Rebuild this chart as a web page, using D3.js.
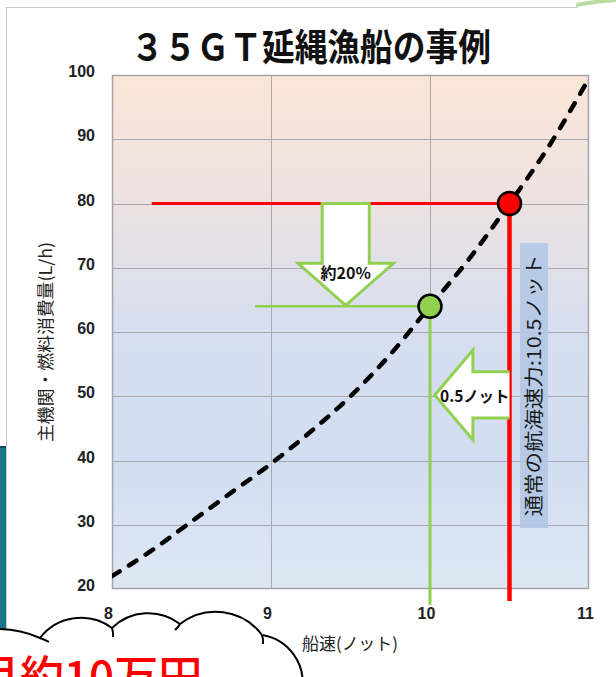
<!DOCTYPE html>
<html>
<head>
<meta charset="utf-8">
<script src="https://cdn.jsdelivr.net/npm/d3@7/dist/d3.min.js"></script>
<style>
  html, body { margin: 0; padding: 0; background: #fff; }
  svg { display: block; }
</style>
</head>
<body>
<script>
// Fuel consumption vs. ship speed, 35GT longline fishing vessel
const speeds = [8, 8.25, 8.5, 8.75, 9, 9.25, 9.5, 9.75, 10, 10.25, 10.5, 10.75, 11];
const fuel   = [22, 26, 30.5, 35, 39.5, 44.5, 50, 56.5, 64, 71.5, 80, 89, 99.5];
const xTicks = [8, 9, 10, 11];
const yTicks = [20, 30, 40, 50, 60, 70, 80, 90, 100];

// operating points
const normalSpeed = 10.5, normalFuel = 80;
const slowSpeed = 10, slowFuel = 64;
const redLineFrom = 8.25, greenLineFrom = 8.9;

const titleText = "３５ＧＴ延縄漁船の事例";
const yTitle = "主機関・燃料消費量(L/h)";
const xTitle = "船速(ノット)";
const cutLabel = "約20%";
const speedLabel = "0.5ノット";
const normalLabel = "通常の航海速力:10.5ノット";
const savingText = "月約10万円";

const W = 616, H = 677;
const JP = "'Noto Sans CJK JP', 'Noto Sans', sans-serif";
const NUM = "'Liberation Sans', Arial, sans-serif";

const svg = d3.select("body").append("svg").attr("width", W).attr("height", H);
const defs = svg.append("defs");

const x = d3.scaleLinear().domain([8, 11]).range([112, 589]);
const y = d3.scaleLinear().domain([20, 100]).range([589, 75]);

// slide frame pieces around the chart
svg.append("rect").attr("x", 0).attr("y", 447).attr("width", 6).attr("height", H - 447).attr("fill", "#17768c");
svg.append("line").attr("x1", 0).attr("x2", 6).attr("y1", 447).attr("y2", 447).attr("stroke", "#0d4d5c").attr("stroke-width", 2);
svg.append("line").attr("x1", 6.5).attr("x2", 6.5).attr("y1", 7).attr("y2", H).attr("stroke", "#c8c8c8").attr("stroke-width", 1);
svg.append("line").attr("x1", 6).attr("x2", 578).attr("y1", 7.5).attr("y2", 7.5).attr("stroke", "#c8c8c8").attr("stroke-width", 1);
svg.append("path").attr("d", "M576,5 Q598,1 616,0").attr("fill", "none").attr("stroke", "#b9dca0").attr("stroke-width", 4);

// title
svg.append("text").attr("x", 311).attr("y", 61).attr("text-anchor", "middle")
  .attr("font-family", JP).attr("font-weight", 700).attr("font-size", 37)
  .attr("textLength", 360).attr("lengthAdjust", "spacingAndGlyphs")
  .attr("fill", "#111").text(titleText);

// plot background gradient
const grad = defs.append("linearGradient").attr("id", "bg").attr("x1", 0).attr("x2", 0).attr("y1", 0).attr("y2", 1);
[["0%", "#fbe6d7"], ["22%", "#efe2e0"], ["48%", "#d7dff0"], ["75%", "#d1ddf1"], ["100%", "#dee7f4"]]
  .forEach(([o, c]) => grad.append("stop").attr("offset", o).attr("stop-color", c));
svg.append("rect").attr("x", x(8)).attr("y", y(100)).attr("width", x(11) - x(8)).attr("height", y(20) - y(100))
  .attr("fill", "url(#bg)");

// gridlines
const grid = svg.append("g").attr("stroke", "#a9a9ae").attr("stroke-width", 1);
grid.selectAll("line.h").data(yTicks.slice(1, -1)).join("line")
  .attr("x1", x(8)).attr("x2", x(11)).attr("y1", d => Math.round(y(d)) + 0.5).attr("y2", d => Math.round(y(d)) + 0.5);
grid.selectAll("line.v").data(xTicks.slice(1, -1)).join("line")
  .attr("y1", y(100)).attr("y2", y(20)).attr("x1", d => Math.round(x(d)) + 0.5).attr("x2", d => Math.round(x(d)) + 0.5);
svg.append("rect").attr("x", x(8) + 0.5).attr("y", y(100) + 0.5).attr("width", x(11) - x(8) - 1).attr("height", y(20) - y(100) - 1)
  .attr("fill", "none").attr("stroke", "#a3a3a8").attr("stroke-width", 1.5);

// axes
const yAxis = svg.append("g").attr("transform", `translate(${x(8)},0)`)
  .call(d3.axisLeft(y).tickValues(yTicks).tickSize(0).tickPadding(17).tickFormat(d3.format("d")));
yAxis.select(".domain").remove();
yAxis.selectAll("text").attr("font-family", NUM).attr("font-weight", 700).attr("font-size", 16)
  .attr("fill", "#222").attr("dy", "0.1em");

const xAxis = svg.append("g").attr("transform", `translate(0,${y(20)})`)
  .call(d3.axisBottom(x).tickValues(xTicks).tickSize(0).tickPadding(19).tickFormat(d3.format("d")));
xAxis.select(".domain").remove();
xAxis.selectAll("text").attr("font-family", NUM).attr("font-weight", 700).attr("font-size", 16)
  .attr("fill", "#222").attr("dx", -4);

// axis titles
svg.append("text").attr("transform", "translate(52,342) rotate(-90)").attr("text-anchor", "middle")
  .attr("font-family", JP).attr("font-size", 17).attr("fill", "#222")
  .attr("textLength", 200).attr("lengthAdjust", "spacingAndGlyphs").text(yTitle);
svg.append("text").attr("x", 350).attr("y", 650).attr("text-anchor", "middle")
  .attr("font-family", JP).attr("font-size", 17).attr("fill", "#222")
  .attr("textLength", 96).attr("lengthAdjust", "spacingAndGlyphs").text(xTitle);

// label box for normal cruising speed
const boxX0 = 520, boxX1 = 548;
svg.append("rect").attr("x", boxX0).attr("y", 243).attr("width", boxX1 - boxX0).attr("height", 285)
  .attr("fill", "#b3c8e6").attr("opacity", 0.9);
svg.append("text").attr("transform", `translate(${(boxX0 + boxX1) / 2 + 7},${(243 + 528) / 2}) rotate(-90)`)
  .attr("text-anchor", "middle").attr("font-family", JP).attr("font-size", 19).attr("fill", "#1a1a1a")
  .attr("textLength", 262).attr("lengthAdjust", "spacingAndGlyphs").text(normalLabel);

// reference lines
svg.append("line").attr("x1", x(redLineFrom)).attr("x2", x(normalSpeed)).attr("y1", y(normalFuel)).attr("y2", y(normalFuel))
  .attr("stroke", "#ff0000").attr("stroke-width", 3);
svg.append("line").attr("x1", x(normalSpeed)).attr("x2", x(normalSpeed)).attr("y1", y(normalFuel)).attr("y2", y(20) + 12)
  .attr("stroke", "#ff0000").attr("stroke-width", 4.5);
svg.append("line").attr("x1", x(greenLineFrom)).attr("x2", x(slowSpeed)).attr("y1", y(slowFuel)).attr("y2", y(slowFuel))
  .attr("stroke", "#92d050").attr("stroke-width", 2.5);
svg.append("line").attr("x1", x(slowSpeed)).attr("x2", x(slowSpeed)).attr("y1", y(slowFuel)).attr("y2", y(20) + 16)
  .attr("stroke", "#92d050").attr("stroke-width", 3);

// down arrow: about 20% less fuel
{
  const cx = 9.47, shaftHalf = 0.148, headHalf = 0.3, headY = 70.7;
  const p = [
    [x(cx - shaftHalf), y(normalFuel)], [x(cx + shaftHalf), y(normalFuel)],
    [x(cx + shaftHalf), y(headY)], [x(cx + headHalf), y(headY)],
    [x(cx), y(slowFuel) - 1], [x(cx - headHalf), y(headY)],
    [x(cx - shaftHalf), y(headY)]
  ];
  svg.append("path").attr("d", d3.line()(p) + "Z").attr("fill", "#fff")
    .attr("stroke", "#92d050").attr("stroke-width", 3).attr("stroke-linejoin", "miter");
  svg.append("text").attr("x", x(cx)).attr("y", y(headY) + 16).attr("text-anchor", "middle")
    .attr("font-family", JP).attr("font-weight", 700).attr("font-size", 16).attr("fill", "#111").text(cutLabel);
}

// left arrow: 0.5 knot slower
{
  const cy = 50.2, shaftHalf = 3.6, headHalf = 7.0, headX = 10.27, tipX = 10.03;
  const p = [
    [x(normalSpeed), y(cy + shaftHalf)], [x(headX), y(cy + shaftHalf)],
    [x(headX), y(cy + headHalf)], [x(tipX), y(cy)],
    [x(headX), y(cy - headHalf)], [x(headX), y(cy - shaftHalf)],
    [x(normalSpeed), y(cy - shaftHalf)]
  ];
  svg.append("path").attr("d", d3.line()(p)).attr("fill", "#fff")
    .attr("stroke", "#92d050").attr("stroke-width", 3).attr("stroke-linejoin", "miter");
  svg.append("text").attr("x", x(tipX) + 40).attr("y", y(cy) + 7).attr("text-anchor", "middle")
    .attr("font-family", JP).attr("font-weight", 700).attr("font-size", 15.5).attr("fill", "#111").text(speedLabel);
}

// fuel curve
defs.append("clipPath").attr("id", "plotClip").append("rect")
  .attr("x", x(8)).attr("y", y(100)).attr("width", x(11) - x(8)).attr("height", y(20) - y(100));
const line = d3.line().x((d, i) => x(speeds[i])).y(d => y(d)).curve(d3.curveMonotoneX);
svg.append("path").attr("clip-path", "url(#plotClip)").attr("d", line(fuel))
  .attr("fill", "none").attr("stroke", "#000").attr("stroke-width", 4.5)
  .attr("stroke-dasharray", "9 11").attr("stroke-linecap", "round");

// operating point markers
svg.append("circle").attr("cx", x(normalSpeed)).attr("cy", y(normalFuel)).attr("r", 11.5)
  .attr("fill", "#ff0000").attr("stroke", "#000").attr("stroke-width", 2.5);
svg.append("circle").attr("cx", x(slowSpeed)).attr("cy", y(slowFuel)).attr("r", 11.5)
  .attr("fill", "#92d050").attr("stroke", "#000").attr("stroke-width", 2.5);

// cloud callout at the bottom
const cloud = svg.append("g");
cloud.append("path")
  .attr("d", "M-5,629 A100,100 0 0 1 40,638 A52,52 0 0 1 112,628 A52,52 0 0 1 180,624 A58,58 0 0 1 262,635 A48,48 0 0 1 302,690 L302,700 L-5,700 Z")
  .attr("fill", "#fff").attr("stroke", "#000").attr("stroke-width", 2);
[[40, 638, 49, 642], [112, 628, 113, 637], [180, 624, 175, 630], [262, 635, 263, 644]].forEach(([a, b, c, d]) =>
  cloud.append("path").attr("d", `M${a},${b} Q${(a + c) / 2 + 1},${(b + d) / 2} ${c},${d}`)
    .attr("fill", "none").attr("stroke", "#000").attr("stroke-width", 2));
svg.append("text").attr("x", -24).attr("y", 693).attr("font-family", JP).attr("font-weight", 500)
  .attr("font-size", 44).attr("fill", "#ff0000").text(savingText);
</script>
</body>
</html>
